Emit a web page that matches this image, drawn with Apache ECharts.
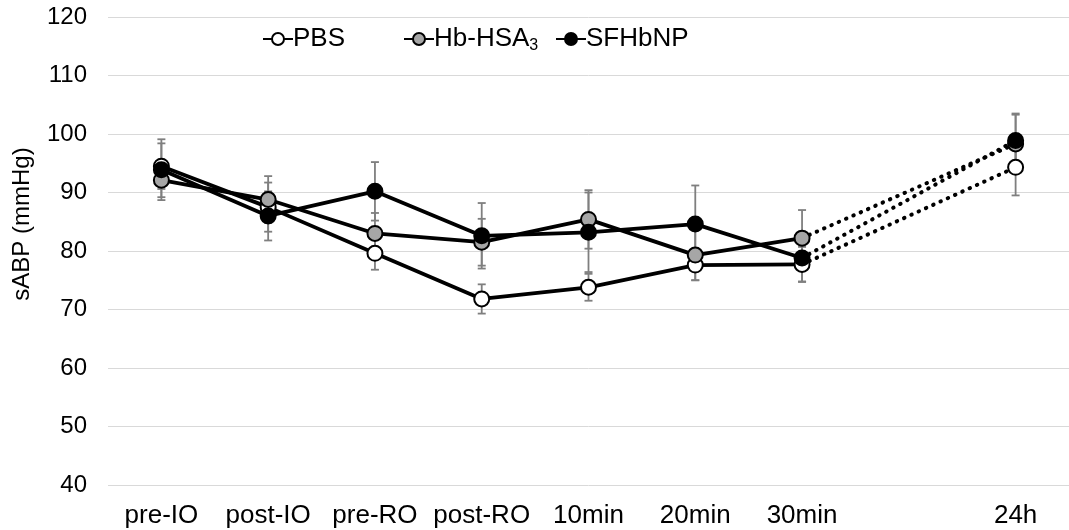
<!DOCTYPE html>
<html>
<head>
<meta charset="utf-8">
<script src="https://cdn.jsdelivr.net/npm/echarts@6/dist/echarts.min.js"></script>
<style>
  html, body, #main { width: 100%; height: 100%; margin: 0; background: #fff; }
</style>
</head>
<body>
<div id="main"></div>
<script>
// time points (index 7 is an empty slot before 24h)
var categories = ['pre-IO', 'post-IO', 'pre-RO', 'post-RO', '10min', '20min', '30min', '', '24h'];

var pbsMean = [94.5, 87.5, 79.6, 71.8, 73.8, 77.6, 77.7, null, 94.3];
var pbsSd   = [3.9, 4.2, 2.8, 2.5, 2.3, 2.6, 3.0, null, 4.8];
var hbMean  = [92.1, 88.8, 83.0, 81.5, 85.4, 79.3, 82.2, null, 98.3];
var hbSd    = [2.9, 4.0, 3.5, 4.0, 5.0, 4.3, 4.8, null, 5.0];
var sfMean  = [93.9, 86.0, 90.2, 82.6, 83.2, 84.6, 78.8, null, 98.9];
var sfSd    = [5.2, 4.2, 5.0, 5.6, 6.8, 6.6, 4.0, null, 4.6];

var groups = [
    { name: 'PBS', mean: pbsMean, sd: pbsSd, fill: '#ffffff', legendLeft: 262 },
    { name: 'Hb-HSA3', mean: hbMean, sd: hbSd, fill: '#a6a6a6', legendLeft: 403 },
    { name: 'SFHbNP', mean: sfMean, sd: sfSd, fill: '#000000', legendLeft: 555 }
];

var FONT = 'Liberation Sans, Arial, sans-serif';

function solidPart(arr) {
    // solid line up to 30min, isolated point at 24h
    return arr.map(function (v) { return v == null ? '-' : v; });
}
function dottedPart(arr) {
    return arr.map(function (v, i) { return (i === 6 || i === 8) ? v : '-'; });
}
function errData(mean, sd) {
    var out = [];
    mean.forEach(function (v, i) {
        if (v != null) out.push([i, v - sd[i], v + sd[i]]);
    });
    return out;
}

var series = [];

// main lines with markers first so the legend picks them up
groups.forEach(function (g) {
    series.push({
        type: 'line',
        name: g.name,
        data: solidPart(g.mean),
        connectNulls: false,
        symbol: 'circle',
        symbolSize: 15,
        showAllSymbol: true,
        z: 3,
        color: g.fill,
        lineStyle: { color: '#000', width: 3.8 },
        itemStyle: { color: g.fill, borderColor: '#000', borderWidth: 2 }
    });
});

groups.forEach(function (g) {
    series.push({
        type: 'line',
        name: g.name + ' 24h',
        data: dottedPart(g.mean),
        connectNulls: true,
        showSymbol: false,
        symbol: 'none',
        z: 2,
        silent: true,
        lineStyle: { color: '#000', width: 4, type: [0.5, 7.5], cap: 'round' }
    });
});

groups.forEach(function (g) {
    series.push({
        type: 'custom',
        name: g.name + ' err',
        data: errData(g.mean, g.sd),
        z: 1,
        silent: true,
        renderItem: function (params, api) {
            var x = api.value(0);
            var lo = api.coord([x, api.value(1)]);
            var hi = api.coord([x, api.value(2)]);
            var w = 4;
            var st = { stroke: '#7f7f7f', lineWidth: 1.8 };
            return {
                type: 'group',
                children: [
                    { type: 'line', shape: { x1: lo[0], y1: lo[1], x2: hi[0], y2: hi[1] }, style: st },
                    { type: 'line', shape: { x1: lo[0] - w, y1: lo[1], x2: lo[0] + w, y2: lo[1] }, style: st },
                    { type: 'line', shape: { x1: hi[0] - w, y1: hi[1], x2: hi[0] + w, y2: hi[1] }, style: st }
                ]
            };
        }
    });
});

var legends = groups.map(function (g) {
    return {
        data: [g.name],
        left: g.legendLeft,
        top: 26,
        padding: 0,
        itemWidth: 30,
        itemHeight: 15,
        selectedMode: false,
        formatter: function (name) {
            return name === 'Hb-HSA3' ? 'Hb-HSA{sub|3}' : name;
        },
        textStyle: {
            fontFamily: FONT,
            fontSize: 26,
            color: '#000',
            padding: [0, 0, 0, -5],
            rich: {
                sub: { fontSize: 16, fontFamily: FONT, color: '#000', padding: [14, 0, 0, 0] }
            }
        }
    };
});

var chart = echarts.init(document.getElementById('main'));
chart.setOption({
    animation: false,
    backgroundColor: '#fff',
    grid: { left: 108, width: 970, top: 17, height: 468 },
    legend: legends,
    xAxis: {
        type: 'category',
        data: categories,
        boundaryGap: true,
        axisLine: { show: false },
        axisTick: { show: false },
        axisLabel: {
            interval: 0,
            margin: 18,
            fontSize: 26,
            color: '#000',
            fontFamily: FONT
        }
    },
    yAxis: {
        type: 'value',
        min: 40,
        max: 120,
        interval: 10,
        name: 'sABP (mmHg)',
        nameLocation: 'middle',
        nameGap: 74,
        nameTextStyle: { fontSize: 24, color: '#000', fontFamily: FONT, padding: [0, 0, 0, 54] },
        axisLine: { show: false },
        axisTick: { show: false },
        axisLabel: {
            margin: 21,
            fontSize: 24,
            color: '#000',
            fontFamily: FONT
        },
        splitLine: { lineStyle: { color: '#d9d9d9', width: 1 } }
    },
    series: series
});
</script>
</body>
</html>
